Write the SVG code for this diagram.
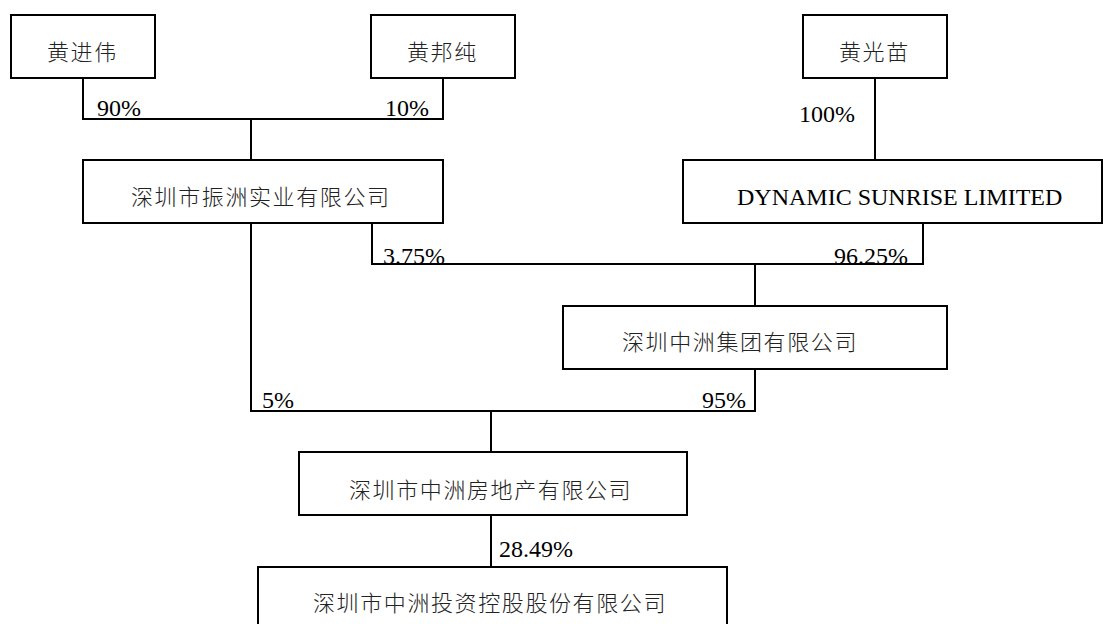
<svg xmlns="http://www.w3.org/2000/svg" width="1103" height="624" viewBox="0 0 1103 624">
<style>
.box{fill:#fff;stroke:#000;stroke-width:2}
.ln{fill:none;stroke:#000;stroke-width:2}
.cn{font-family:"Noto Sans CJK SC",sans-serif;font-size:22px;font-weight:300;letter-spacing:1.6px;fill:#222}
.lt{font-family:"Liberation Serif","Times New Roman",serif;font-size:24px;fill:#000}
</style>
<rect width="1103" height="624" fill="#fff"/>
<g id="connectors">
<path class="ln" d="M83,78 V119 H443 V78"/>
<path class="ln" d="M251,119 V160"/>
<path class="ln" d="M875,78 V160"/>
<path class="ln" d="M251,223 V411 H755 V369"/>
<path class="ln" d="M372,223 V264 H923 V223"/>
<path class="ln" d="M755,264 V306"/>
<path class="ln" d="M491,411 V452"/>
<path class="ln" d="M491,515 V567"/>
<text class="lt" font-family="Liberation Serif, serif" x="97" y="116">90%</text>
<text class="lt" font-family="Liberation Serif, serif" x="385" y="116">10%</text>
<text class="lt" font-family="Liberation Serif, serif" x="799" y="122">100%</text>
<text class="lt" font-family="Liberation Serif, serif" x="383" y="264">3.75%</text>
<text class="lt" font-family="Liberation Serif, serif" x="834" y="264">96.25%</text>
<text class="lt" font-family="Liberation Serif, serif" x="262" y="408">5%</text>
<text class="lt" font-family="Liberation Serif, serif" x="702" y="408">95%</text>
<text class="lt" font-family="Liberation Serif, serif" x="499" y="557">28.49%</text>
</g>
<g id="n1"><rect class="box" x="11" y="15" width="144" height="63"/><text class="cn" x="47" y="60">黄进伟</text></g>
<g id="n2"><rect class="box" x="371" y="15" width="144" height="63"/><text class="cn" x="407" y="60">黄邦纯</text></g>
<g id="n3"><rect class="box" x="803" y="15" width="144" height="63"/><text class="cn" x="839" y="60">黄光苗</text></g>
<g id="n4"><rect class="box" x="83" y="160" width="360" height="63"/><text class="cn" x="131" y="205">深圳市振洲实业有限公司</text></g>
<g id="n5"><rect class="box" x="683" y="160" width="419" height="63"/><text class="lt" font-family="Liberation Serif, serif" x="737" y="205">DYNAMIC SUNRISE LIMITED</text></g>
<g id="n6"><rect class="box" x="563" y="306" width="384" height="63"/><text class="cn" x="622" y="350">深圳中洲集团有限公司</text></g>
<g id="n7"><rect class="box" x="299" y="452" width="388" height="63"/><text class="cn" x="349" y="498">深圳市中洲房地产有限公司</text></g>
<g id="n8"><rect class="box" x="258" y="567" width="469" height="80"/><text class="cn" x="313" y="611">深圳市中洲投资控股股份有限公司</text></g>
</svg>
